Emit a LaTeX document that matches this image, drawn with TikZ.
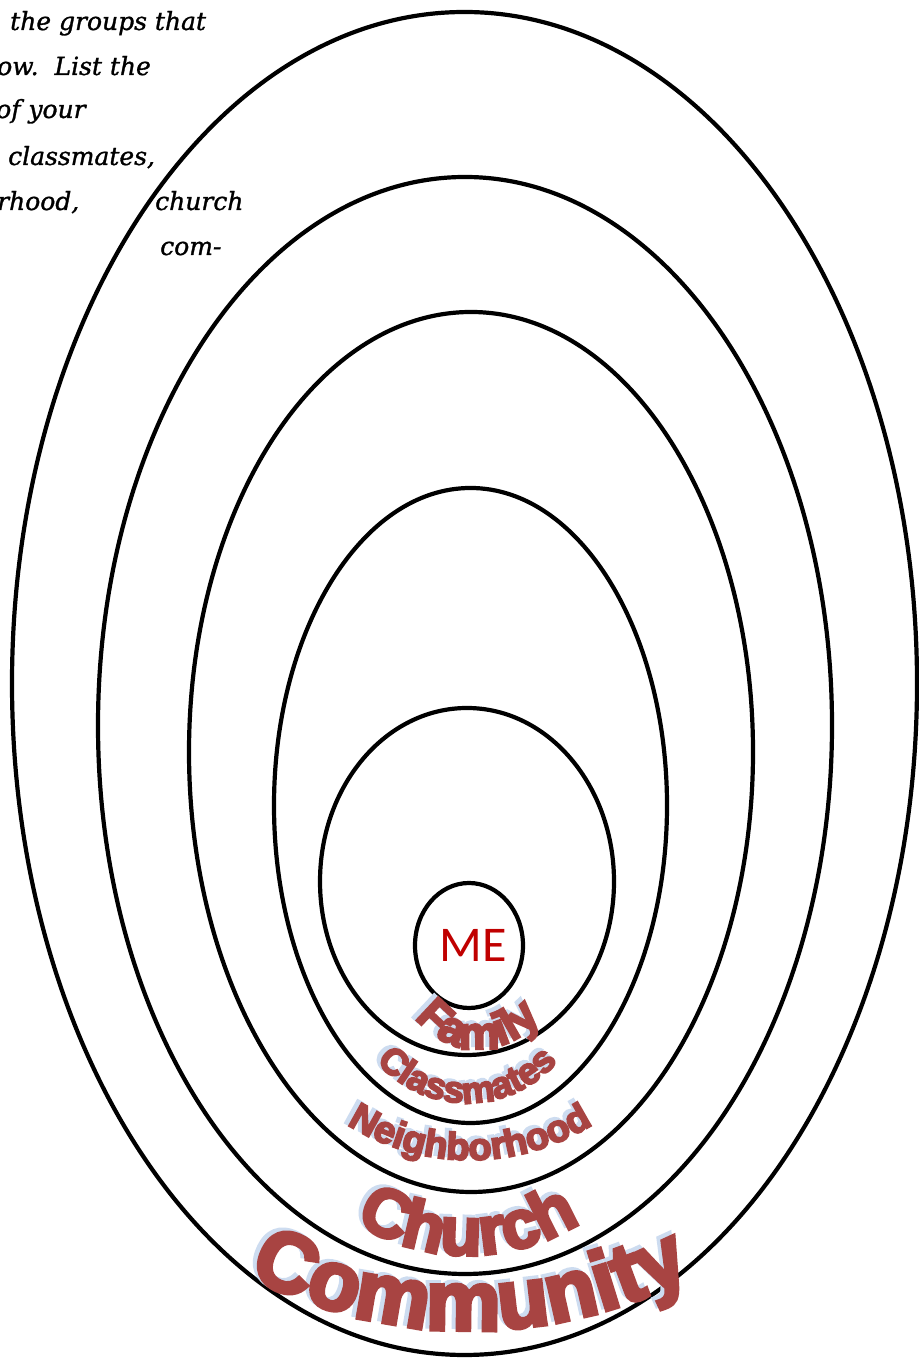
\documentclass[tikz,border=0pt]{standalone}
\usepackage{fontspec}
\usetikzlibrary{shapes.geometric,decorations.text}
\newfontfamily\wafont{Liberation Sans}[BoldFeatures={FakeBold=5}]
\newfontfamily\handfont{DejaVu Serif}[ItalicFeatures={FakeBold=1.2}]
\newfontfamily\mefont{Carlito}
\definecolor{wared}{RGB}{168,68,66}
\definecolor{washadow}{RGB}{205,220,240}
\definecolor{mered}{RGB}{192,0,0}
\tikzset{
  ring/.style={draw=black,line width=4.2pt,ellipse,inner sep=0pt,outer sep=0pt},
  handtext/.style={anchor=base west,inner sep=0pt,font=\handfont\itshape\fontsize{25}{28}\selectfont},
}
\newcommand\arclabel[5]{%
  \path[decorate,decoration={text along path,text align=center,
    text={|\wafont\bfseries\fontsize{#4}{#4}\selectfont\color{washadow}|#5}}]
    (#1-4,#2+3) ++(182:#3) arc[start angle=182,end angle=358,radius=#3];
  \path[decorate,decoration={text along path,text align=center,
    text={|\wafont\bfseries\fontsize{#4}{#4}\selectfont\color{wared}|#5}}]
    (#1,#2) ++(182:#3) arc[start angle=182,end angle=358,radius=#3];
}
\begin{document}
\begin{tikzpicture}[x=1pt,y=1pt]
\useasboundingbox[fill=white] (0,0) rectangle (918,1359);
% instruction text (partly cut at left edge)
\node[handtext] (t1) at (10,1329) {the groups that};
\node[handtext] (t2) at (-3,1284) {ow.\ \ List the};
\node[handtext] (t3) at (-4,1241) {of your};
\node[handtext] (t4) at (8,1194) {classmates,};
\node[handtext] (t5) at (-3,1149) {rhood,};
\node[handtext] (t6) at (155,1149) {church};
\node[handtext] (t7) at (160,1104) {com-};
% rings
\node[ring,minimum width=905,minimum height=1343] (community) at (464.5,675.5) {};
\node[ring,minimum width=734,minimum height=1097] (church) at (465,633.5) {};
\node[ring,minimum width=564,minimum height=880] (neighborhood) at (471,607) {};
\node[ring,minimum width=393,minimum height=635] (classmates) at (470.5,553.5) {};
\node[ring,minimum width=294,minimum height=347] (family) at (467,477.5) {};
\node[ring,minimum width=108,minimum height=125] (me) at (469,413.5) {};
\node[font=\mefont\fontsize{50}{50}\selectfont,text=mered] (metext) at (473,414) {ME};
% curved labels
\arclabel{478}{388}{78}{46}{Family}
\arclabel{467}{376}{120}{37}{Classmates}
\arclabel{470}{429}{230}{38}{Neighborhood}
\arclabel{468}{314}{210}{68}{Church}
\arclabel{470}{509}{480}{84}{Community}
\end{tikzpicture}
\end{document}
